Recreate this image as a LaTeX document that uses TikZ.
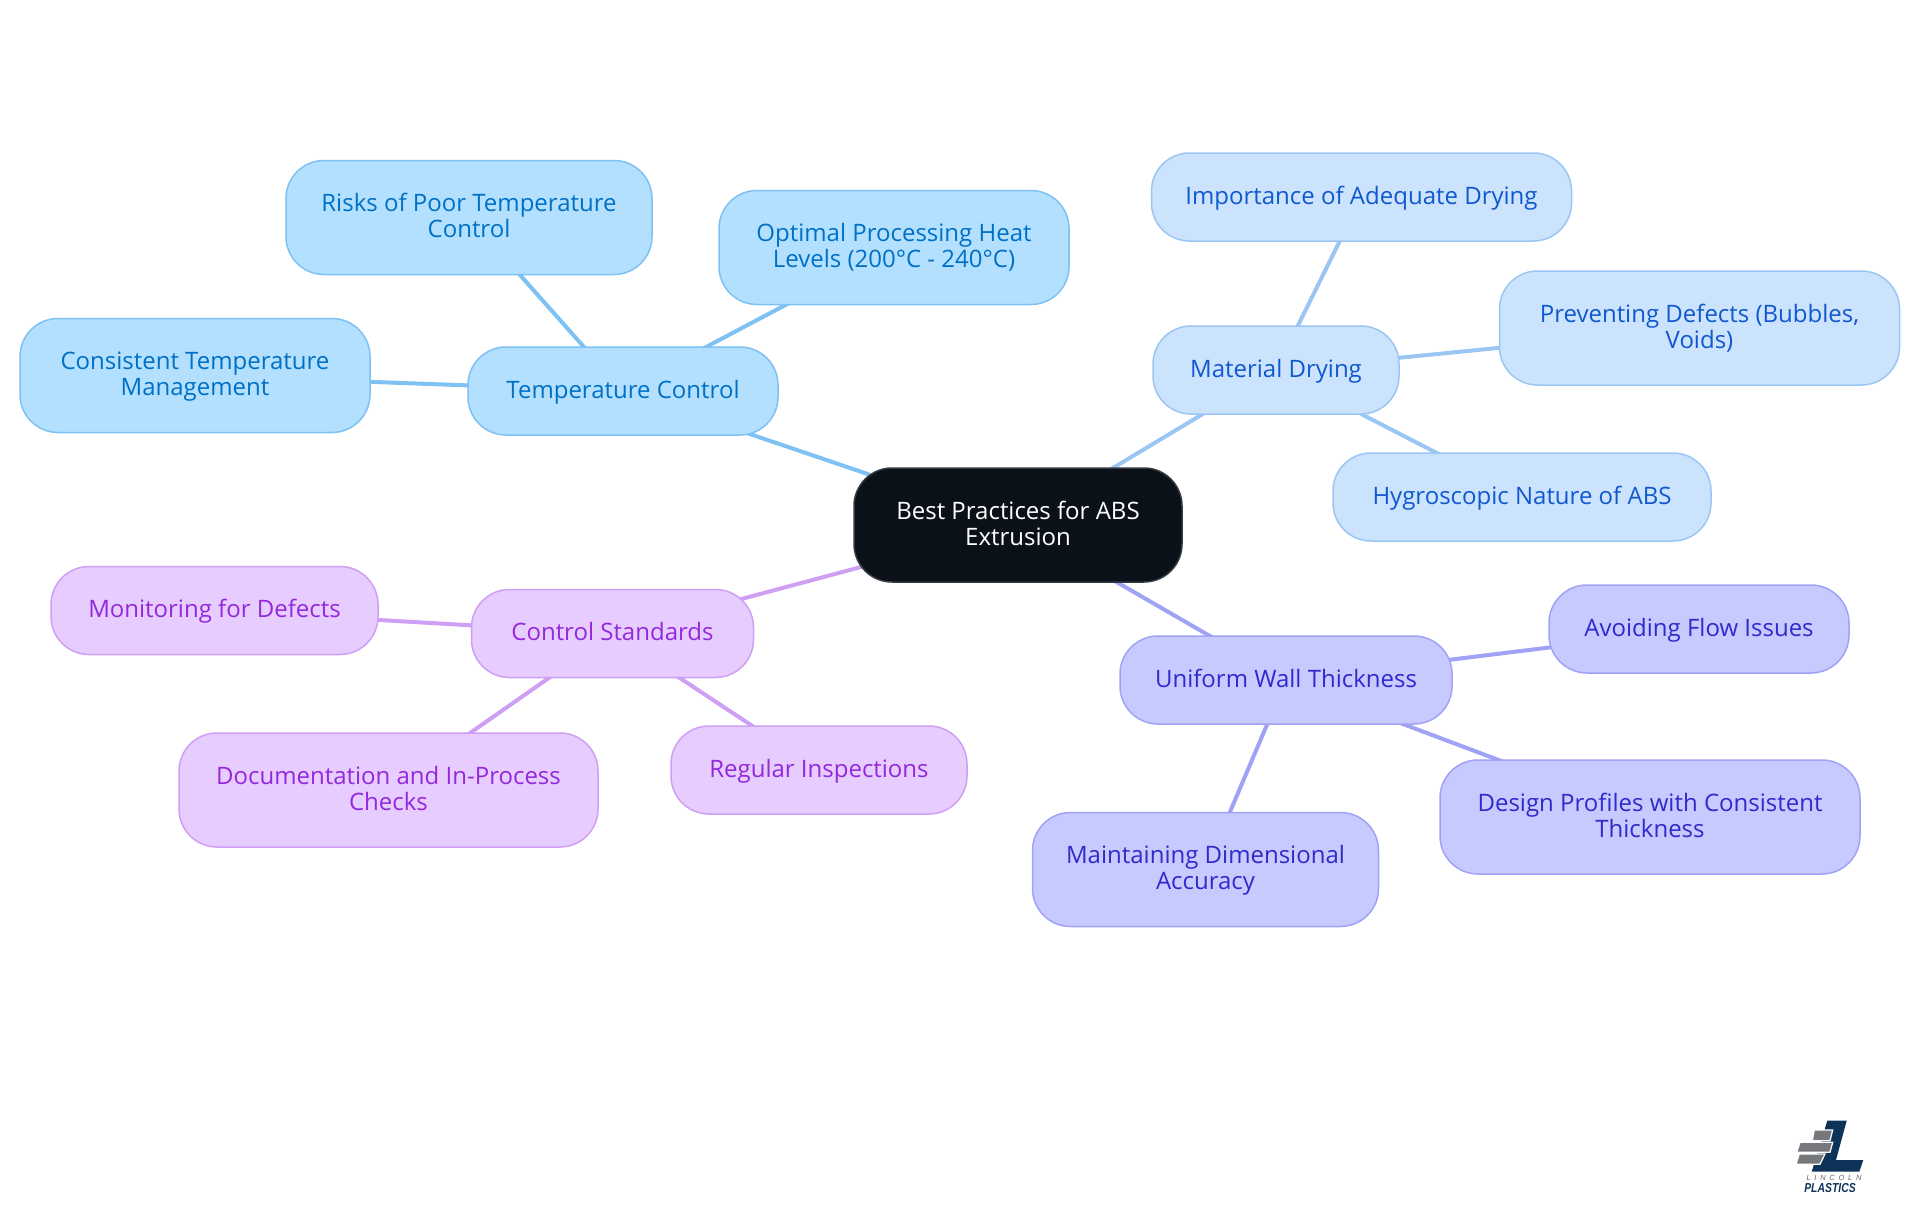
\documentclass[tikz,border=0pt]{standalone}
\usepackage{fontspec}
\setmainfont{Open Sans}
\newfontfamily\logofont{Liberation Sans}
\usetikzlibrary{backgrounds}
\definecolor{rootfill}{HTML}{0B1119}
\definecolor{rootline}{HTML}{343A42}
\definecolor{tfill}{HTML}{B3E0FF}\definecolor{tline}{HTML}{7EC1F2}\definecolor{ttext}{HTML}{0070C5}
\definecolor{mfill}{HTML}{CCE3FD}\definecolor{mline}{HTML}{9BC6F3}\definecolor{mtext}{HTML}{1058D0}
\definecolor{ufill}{HTML}{C7CAFF}\definecolor{uline}{HTML}{A0A3F5}\definecolor{utext}{HTML}{2F2ACC}
\definecolor{cfill}{HTML}{E6CCFF}\definecolor{cline}{HTML}{CE9FF3}\definecolor{ctext}{HTML}{9428DC}
\definecolor{logoblue}{HTML}{0E3358}
\definecolor{logogray}{HTML}{77787B}
\tikzset{
  box/.style={rounded corners=38pt,line width=1.5pt,align=center,outer sep=0pt,inner sep=0pt,
    font=\fontsize{24}{26}\selectfont},
  rootbox/.style={box,fill=rootfill,draw=rootline,text=white},
  tbox/.style={box,fill=tfill,draw=tline,text=ttext},
  mbox/.style={box,fill=mfill,draw=mline,text=mtext},
  ubox/.style={box,fill=ufill,draw=uline,text=utext},
  cbox/.style={box,fill=cfill,draw=cline,text=ctext},
  dims/.style n args={2}{minimum width=#1pt,minimum height=#2pt},
  oneline/.style={text height=18pt,text depth=4pt},
  twolines/.style={text height=44pt,text depth=4pt},
  link/.style={line width=4pt},
  logobar/.style={fill=logogray,draw=white,line width=1.2pt},
}
\begin{document}
\begin{tikzpicture}[x=1pt,y=-1pt]
\useasboundingbox (0,0) rectangle (1920,1215);
\node[rootbox,twolines,dims={328}{114}] (root) at (1018,525) {Best Practices for ABS\\Extrusion};
\node[tbox,oneline,dims={310}{88}] (temp) at (623,391) {Temperature Control};
\node[tbox,twolines,dims={366}{114}] (risks) at (469,217.5) {Risks of Poor Temperature\\Control};
\node[tbox,twolines,dims={350}{114}] (optimal) at (894,247.5) {Optimal Processing Heat\\Levels (200°C - 240°C)};
\node[tbox,twolines,dims={350}{114}] (consistent) at (195,375.5) {Consistent Temperature\\Management};
\node[mbox,oneline,dims={246}{88}] (material) at (1276,370) {Material Drying};
\node[mbox,oneline,dims={420}{88}] (importance) at (1361.5,197) {Importance of Adequate Drying};
\node[mbox,twolines,dims={400}{114}] (preventing) at (1699.5,328) {Preventing Defects (Bubbles,\\Voids)};
\node[mbox,oneline,dims={378}{88}] (hygro) at (1522,497) {Hygroscopic Nature of ABS};
\node[ubox,oneline,dims={332}{88}] (uniform) at (1286,680) {Uniform Wall Thickness};
\node[ubox,oneline,dims={300}{88}] (avoid) at (1699,629) {Avoiding Flow Issues};
\node[ubox,twolines,dims={420}{114}] (design) at (1650,817) {Design Profiles with Consistent\\Thickness};
\node[ubox,twolines,dims={346}{114}] (maintain) at (1205.5,869.5) {Maintaining Dimensional\\Accuracy};
\node[cbox,oneline,dims={282}{88}] (control) at (612.5,633.5) {Control Standards};
\node[cbox,oneline,dims={327}{88}] (monitor) at (214.5,610.5) {Monitoring for Defects};
\node[cbox,twolines,dims={419}{114}] (document) at (388.5,790) {Documentation and In-Process\\Checks};
\node[cbox,oneline,dims={296}{88}] (regular) at (819,770) {Regular Inspections};
\begin{scope}[on background layer]
\draw[link,tline] (root.center) -- (temp.center);
\draw[link,tline] (temp.center) -- (risks.center);
\draw[link,tline] (temp.center) -- (optimal.center);
\draw[link,tline] (temp.center) -- (consistent.center);
\draw[link,mline] (root.center) -- (material.center);
\draw[link,mline] (material.center) -- (importance.center);
\draw[link,mline] (material.center) -- (preventing.center);
\draw[link,mline] (material.center) -- (hygro.center);
\draw[link,uline] (root.center) -- (uniform.center);
\draw[link,uline] (uniform.center) -- (avoid.center);
\draw[link,uline] (uniform.center) -- (design.center);
\draw[link,uline] (uniform.center) -- (maintain.center);
\draw[link,cline] (root.center) -- (control.center);
\draw[link,cline] (control.center) -- (monitor.center);
\draw[link,cline] (control.center) -- (document.center);
\draw[link,cline] (control.center) -- (regular.center);
\end{scope}
% logo
\fill[logoblue] (1827.3,1120.7) -- (1846.7,1120.7) -- (1836,1160) -- (1863.3,1160) -- (1859.3,1171.7) -- (1811.7,1171.7) -- cycle;
\path[logobar] (1814.3,1130) -- (1832.7,1130) -- (1830,1140.7) -- (1812.3,1140.7) -- cycle;
\path[logobar] (1800,1142.3) -- (1832.7,1142.3) -- (1830,1152.3) -- (1796.7,1152.3) -- cycle;
\path[logobar] (1799.3,1154) -- (1825,1154) -- (1820,1164.3) -- (1796,1164.3) -- cycle;
\node[inner sep=0pt,text=logogray!85!black,font=\logofont\itshape\fontsize{7.5}{8}\selectfont] (lincoln) at (1834,1178) {L\,\,\,I\,\,\,N\,\,\,C\,\,\,O\,\,\,L\,\,\,N};
\node[inner sep=0pt,xscale=0.8,text=logoblue,font=\logofont\bfseries\itshape\fontsize{13}{14}\selectfont] (plastics) at (1830,1188.5) {PLASTICS};
\end{tikzpicture}
\end{document}
